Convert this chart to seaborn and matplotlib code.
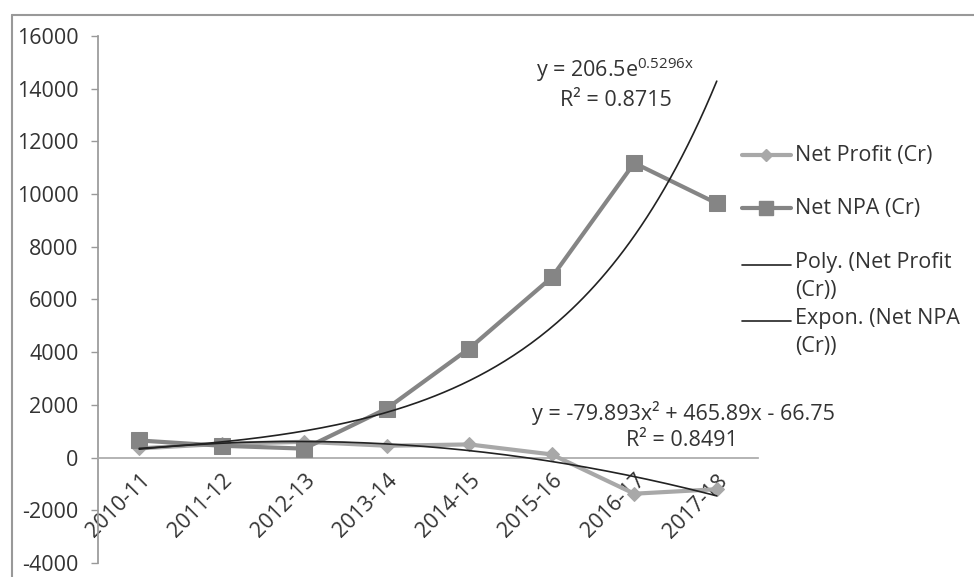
import numpy as np
import pandas as pd
import matplotlib
matplotlib.use("Agg")
import matplotlib.pyplot as plt
from matplotlib.lines import Line2D
import seaborn as sns

years = ["2010-11", "2011-12", "2012-13", "2013-14", "2014-15", "2015-16", "2016-17", "2017-18"]
net_profit = [350, 520, 600, 450, 500, 120, -1370, -1200]
net_npa = [650, 450, 340, 1860, 4140, 6840, 11180, 9650]
poly_coef = [-79.893, 465.89, -66.75]   # y = a x^2 + b x + c
exp_coef = [206.5, 0.5296]              # y = A e^(k x)
yticks = [-4000, -2000, 0, 2000, 4000, 6000, 8000, 10000, 12000, 14000, 16000]

sns.set_theme(style="white")
plt.rcParams["font.family"] = ["Open Sans", "DejaVu Sans"]
txt = "#333333"
FS = 15.5

fig = plt.figure(figsize=(9.74, 5.77), dpi=100)
ax = fig.add_axes([98/974, 1-563/577, (758-98)/974, (563-36)/577])

pos = np.arange(len(years))
df = pd.DataFrame({"pos": pos, "Net Profit (Cr)": net_profit, "Net NPA (Cr)": net_npa})

sns.lineplot(data=df, x="pos", y="Net Profit (Cr)", ax=ax, color="#a8a8a8", lw=3,
             marker="D", markersize=7, markeredgecolor="#a8a8a8", zorder=3)
sns.lineplot(data=df, x="pos", y="Net NPA (Cr)", ax=ax, color="#858585", lw=3,
             marker="s", markersize=12, markeredgecolor="#858585", zorder=3)

xs = np.linspace(1, 8, 200)
poly_y = poly_coef[0]*xs**2 + poly_coef[1]*xs + poly_coef[2]
exp_y = exp_coef[0]*np.exp(exp_coef[1]*xs)
sns.lineplot(x=xs-1, y=poly_y, ax=ax, color="#222222", lw=1.2, zorder=4)
sns.lineplot(x=xs-1, y=exp_y, ax=ax, color="#222222", lw=1.2, zorder=4)

for s in ["top", "right"]:
    ax.spines[s].set_visible(False)
ax.spines["bottom"].set_position(("data", 0))
ax.spines["bottom"].set_color("#aaaaaa")
ax.spines["left"].set_color("#999999")
ax.patch.set_alpha(0)

ax.set_xlim(-0.5, len(years)-0.5)
ax.set_ylim(-4000, 16000)
ax.set_yticks(yticks)
ax.set_yticklabels([str(v) for v in yticks], fontsize=FS, color=txt)
ax.set_xticks(pos)
ax.set_xticklabels(years, rotation=45, ha="right", va="top", rotation_mode="anchor",
                   fontsize=FS, color=txt)
ax.set_xticks(np.arange(-0.5, len(years)), minor=True)
ax.tick_params(axis="x", which="major", length=0, pad=9)
ax.tick_params(axis="x", which="minor", length=5, direction="out", color="#999999", width=1)
ax.tick_params(axis="y", length=5, direction="out", color="#999999", left=True, width=1, pad=9)
ax.set_xlabel("")
ax.set_ylabel("")

fig.text(615/974, 1-70/577, r"y = 206.5e$^{\mathregular{0.5296x}}$", ha="center",
         va="center", fontsize=FS, color=txt)
fig.text(616/974, 1-100/577, "R² = 0.8715", ha="center", va="center", fontsize=FS, color=txt)
fig.text(683/974, 1-413/577, "y = -79.893x² + 465.89x - 66.75", ha="center", va="center",
         fontsize=FS, color=txt)
fig.text(682/974, 1-441/577, "R² = 0.8491", ha="center", va="center", fontsize=FS, color=txt)

# legend
leg_items = [
    ("Net Profit (Cr)", 155, dict(color="#a8a8a8", lw=3), dict(marker="D", markersize=6, color="#a8a8a8")),
    ("Net NPA (Cr)", 208, dict(color="#858585", lw=3), dict(marker="s", markersize=10, color="#858585")),
    ("Poly. (Net Profit\n(Cr))", 265, dict(color="#222222", lw=1.2), None),
    ("Expon. (Net NPA\n(Cr))", 321, dict(color="#222222", lw=1.2), None),
]
for label, yp, lkw, mkw in leg_items:
    yf = 1 - yp/577
    fig.add_artist(Line2D([742/974, 791/974], [yf, yf], transform=fig.transFigure, **lkw))
    if mkw:
        fig.add_artist(Line2D([766/974], [yf], transform=fig.transFigure, lw=0, **mkw))
    if "\n" in label:
        fig.text(795/974, yf + 13/577, label, ha="left", va="top", fontsize=FS, color=txt,
                 linespacing=1.45)
    else:
        fig.text(795/974, yf, label, ha="left", va="center", fontsize=FS, color=txt)

# chart border (scan frame)
fig.add_artist(Line2D([12/974, 12/974], [0, 1-15/577], transform=fig.transFigure, color="#999999", lw=1.5))
fig.add_artist(Line2D([12/974, 1], [1-15/577, 1-15/577], transform=fig.transFigure, color="#999999", lw=1.5))

fig.savefig("out.png", dpi=100)
